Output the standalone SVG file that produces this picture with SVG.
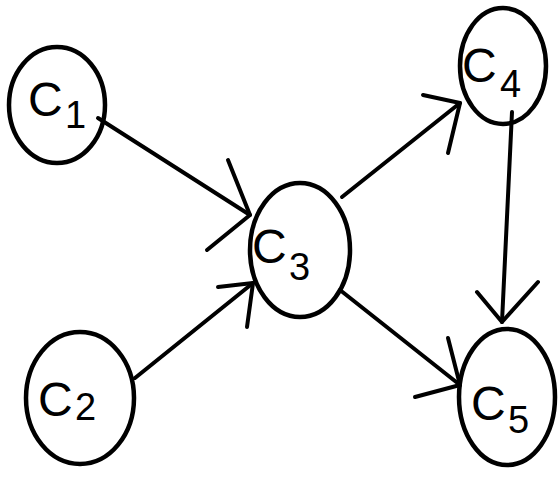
<svg xmlns="http://www.w3.org/2000/svg" width="558" height="477" viewBox="0 0 558 477">
<style>
.n{fill:none;stroke:#000;stroke-width:4.5}
.e{fill:none;stroke:#000;stroke-width:4;stroke-linecap:round;stroke-linejoin:round}
.l{font-family:"Liberation Sans",Arial,sans-serif;fill:#000}
.c{font-size:48px}
.d{font-size:38px}
</style>
<rect width="558" height="477" fill="#fff"/>
<g id="connectors">
<path class="e" d="M98,118 L250,215"/>
<path class="e" d="M228,160 L250,215 L207,250"/>
<path class="e" d="M135,378 L253,283"/>
<path class="e" d="M218,287 L253,283 L247,327"/>
<path class="e" d="M342,197 L460,103"/>
<path class="e" d="M423,95 L460,103 L448,153"/>
<path class="e" d="M340,290 L460,385"/>
<path class="e" d="M448,338 L460,385 L415,397"/>
<path class="e" d="M512,112 L502,322"/>
<path class="e" d="M477,292 L502,322 L538,282"/>
</g>
<g id="C1">
<ellipse class="n" cx="57" cy="105" rx="48" ry="58"/>
<text class="l c" x="28" y="116">C</text><text class="l d" x="65" y="128">1</text>
</g>
<g id="C2">
<ellipse class="n" cx="80" cy="398" rx="54" ry="66"/>
<text class="l c" x="38" y="416">C</text><text class="l d" x="75" y="420">2</text>
</g>
<g id="C3">
<ellipse class="n" cx="300" cy="250" rx="50" ry="67"/>
<text class="l c" x="252" y="263">C</text><text class="l d" x="289" y="280">3</text>
</g>
<g id="C4">
<ellipse class="n" cx="503" cy="66" rx="43" ry="58"/>
<text class="l c" x="462" y="82">C</text><text class="l d" x="500" y="97">4</text>
</g>
<g id="C5">
<ellipse class="n" cx="507" cy="397" rx="48" ry="68"/>
<text class="l c" x="471" y="420">C</text><text class="l d" x="508" y="433">5</text>
</g>
</svg>
